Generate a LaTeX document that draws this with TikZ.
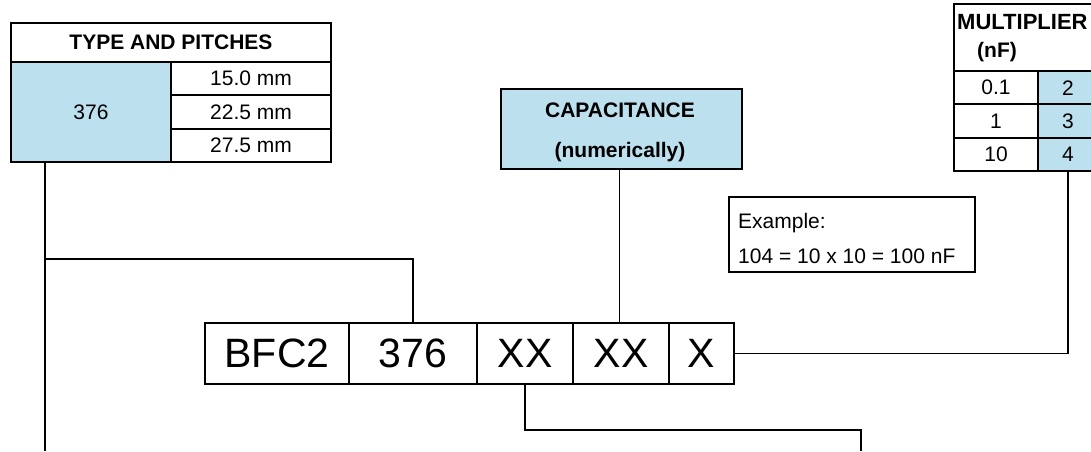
\documentclass[tikz,border=0pt]{standalone}
\usepackage{fontspec}
\setmainfont{Liberation Sans}
\usetikzlibrary{calc}
\definecolor{tabblue}{RGB}{189,224,238}
\tikzset{
 cell/.style={draw, line width=1.8pt, inner sep=0pt, outer sep=0pt, anchor=north west, font=\fontsize{21}{25}\selectfont},
 code/.style={draw, line width=2.3pt, inner sep=0pt, outer sep=0pt, minimum height=61pt, anchor=north west, font=\fontsize{41}{45}\selectfont},
 txt/.style={inner sep=0pt, font=\fontsize{21}{25}\selectfont},
 wire/.style={line width=1.6pt},
}

\begin{document}
\begin{tikzpicture}[x=1pt, y=-1pt]
\useasboundingbox (0,0) rectangle (1091,451);
% type and pitches table
\node[cell, minimum width=320pt, minimum height=39pt, font=\fontsize{21}{25}\selectfont\bfseries] (typhead) at (11,23) {TYPE AND PITCHES};
\node[cell, fill=tabblue, minimum width=160pt, minimum height=100pt] (typval) at (11,62) {376};
\foreach \p [count=\i] in {15.0, 22.5, 27.5} {
 \node[cell, minimum width=160pt, minimum height=33.33pt] (pitch\i) at (171,{62+(\i-1)*33.33}) {\p\ mm};
}
% capacitance
\node[cell, fill=tabblue, minimum width=241pt, minimum height=80pt] (capbox) at (501,89) {};
\node[txt, anchor=base, font=\fontsize{21}{25}\selectfont\bfseries] (captop) at (620,117) {CAPACITANCE};
\node[txt, anchor=base, font=\fontsize{21}{25}\selectfont\bfseries] (capbot) at (620,157) {(numerically)};
% example
\node[cell, minimum width=246pt, minimum height=75pt] (exbox) at (729,197) {};
\node[txt, anchor=base west] (exa) at (738,228) {Example:};
\node[txt, anchor=base west] (exb) at (738,263) {104 = 10 x 10 = 100 nF};
% multiplier table
\node[cell, minimum width=144pt, minimum height=67pt] (multhead) at (954,4) {};
\node[txt, anchor=base west, font=\fontsize{22}{26}\selectfont\bfseries] (multa) at (957,29) {MULTIPLIER};
\node[txt, anchor=base, font=\fontsize{21}{25}\selectfont\bfseries] (multb) at (997,57) {(nF)};
\foreach \a/\b [count=\i] in {0.1/2, 1/3, 10/4} {
 \node[cell, minimum width=84pt, minimum height=33.33pt] (mval\i) at (954,{71+(\i-1)*33.33}) {\a};
 \node[cell, fill=tabblue, minimum width=60pt, minimum height=33.33pt] (mexp\i) at (1038,{71+(\i-1)*33.33}) {\b};
}
% order code
\node[code, line width=1.5pt, minimum width=144pt] (bfc) at (205,323) {BFC2};
\foreach \t/\x/\w/\n in {376/349/128/typ, XX/477/96/xa, XX/573/96/xb, X/669/65/xc} {
 \node[code, minimum width=\w pt] (\n) at (\x,323) {\t};
}
% connectors
\coordinate (fork) at (45,259);
\coordinate (lowL) at (45,451);
\coordinate (lowR) at (861,451);
\draw[wire] ([xshift=34pt]typval.south west) -- (lowL);
\draw[wire] (fork) -| (typ.north);
\draw[wire] ([xshift=-2pt]capbox.south) -- ([xshift=-2pt]capbox.south |- xb.north);
\draw[wire] (xa.south) -- ++(0,46) -| (lowR);
\draw[wire] (xc.east) -| (mexp3.south);
\end{tikzpicture}
\end{document}
